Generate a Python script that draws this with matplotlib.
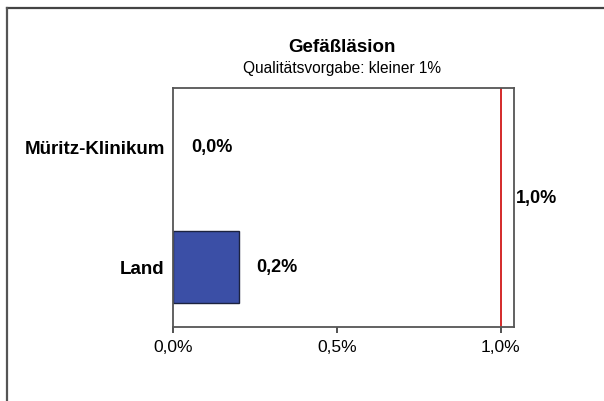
import matplotlib.pyplot as plt
from matplotlib.lines import Line2D
from matplotlib.ticker import FuncFormatter

plt.rcParams['font.family'] = ['Liberation Sans', 'DejaVu Sans']

# data
categories = ["Land", "Müritz-Klinikum"]
values = [0.2, 0.0]
value_labels = ["0,2%", "0,0%"]
target = 1.0
target_label = "1,0%"
xticks = [0.0, 0.5, 1.0]

fig = plt.figure(figsize=(6.04, 4.01), dpi=100)
ax = fig.add_axes([173/604, 1 - 327/401, 341/604, 239/401])

ypos = list(range(len(categories)))
ax.barh(ypos, values, height=0.6, color="#3b4fa6", edgecolor="#1c2340",
        linewidth=[1.0 if v > 0 else 0 for v in values])
ax.axvline(target, color="#d42a2a", linewidth=1.4)

for y, v, lab in zip(ypos, values, value_labels):
    ax.annotate(lab, xy=(v, y), xytext=(13, 0), textcoords="offset points",
                ha="left", va="center", fontsize=13, fontweight="bold")

ax.text(1.0 + 2/341, 0.536, target_label, transform=ax.transAxes,
        ha="left", va="center", fontsize=13, fontweight="bold")

ax.set_xlim(0, 1.04)
ax.set_ylim(-0.5, 1.5)
ax.set_yticks(ypos)
ax.set_yticklabels(categories, fontsize=13.5, fontweight="bold")
ax.set_xticks(xticks)
ax.xaxis.set_major_formatter(FuncFormatter(lambda v, p: f"{v:.1f}%".replace(".", ",")))
ax.tick_params(axis="x", direction="out", length=4, width=1.2, color="#333333",
               labelsize=12.5, pad=5)
ax.tick_params(axis="y", length=0, pad=6)
for s in ax.spines.values():
    s.set_color("#555555")
    s.set_linewidth(1.3)

fig.text(342/604, 1 - 48/401, "Gefäßläsion", ha="center", va="center",
         fontsize=13.5, fontweight="bold")
fig.text(342/604, 1 - 68/401, "Qualitätsvorgabe: kleiner 1%", ha="center", va="center",
         fontsize=11.2)

# outer frame (top and left only)
fig.add_artist(Line2D([7/604, 1], [1 - 7.5/401, 1 - 7.5/401], transform=fig.transFigure,
                      color="#444444", linewidth=1.6))
fig.add_artist(Line2D([7/604, 7/604], [0, 1 - 7.5/401], transform=fig.transFigure,
                      color="#555555", linewidth=1.6))

fig.savefig("out.png", dpi=100)
